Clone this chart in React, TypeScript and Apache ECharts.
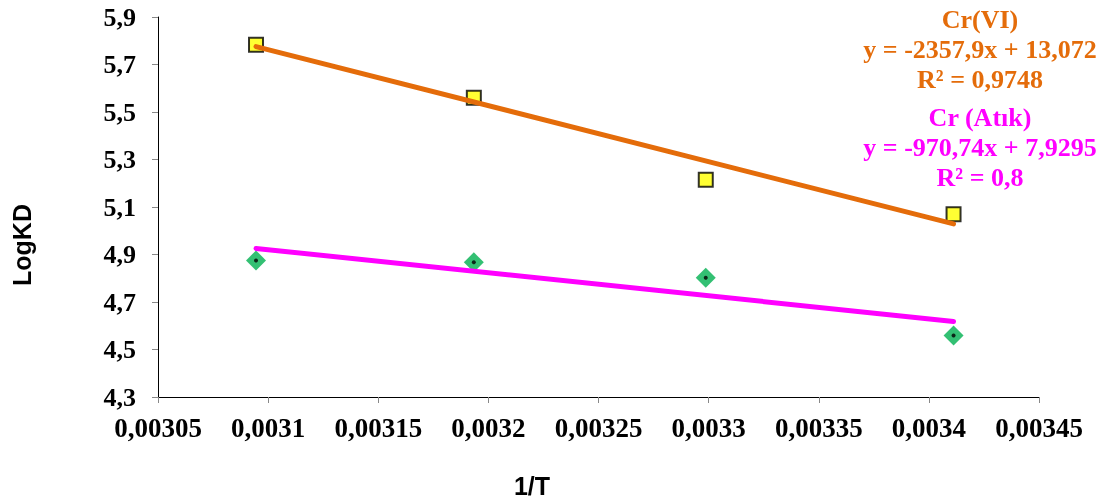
import React, { useEffect, useRef } from "react";
import * as echarts from "echarts";

const invT = [0.0030945, 0.0031934, 0.0032987, 0.0034112];
const crVI = [5.783, 5.56, 5.215, 5.07];
const crAtik = [4.875, 4.867, 4.802, 4.559];
const fitVI = [-2357.9, 13.072];
const fitAtik = [-970.74, 7.9295];
const labelVI = ["Cr(VI)", "y = -2357,9x + 13,072", "R² = 0,9748"];
const labelAtik = ["Cr (Atık)", "y = -970,74x + 7,9295", "R² = 0,8"];
const xTitle = "1/T";
const yTitle = "LogKD";

const fmt = (v: number) => String(+v.toFixed(6)).replace(".", ",");

export default function App() {
  const ref = useRef<HTMLDivElement>(null);
  useEffect(() => {
    const chart = echarts.init(ref.current!, null, { renderer: "svg" });
    const xs = [invT[0], invT[invT.length - 1]];
    const trend = (f: number[]) => xs.map((x) => [x, f[0] * x + f[1]]);
    const serif = '"Liberation Serif", "Times New Roman", serif';
    const sans = '"Liberation Sans", Arial, sans-serif';
    const textLines = (lines: string[], color: string, y0: number) =>
      lines.map((t, i) => ({
        type: "text",
        x: 980,
        y: y0 + i * 30,
        style: {
          text: t,
          fill: color,
          font: `bold 26px ${serif}`,
          textAlign: "center",
          textVerticalAlign: "middle",
        },
      }));
    chart.setOption({
      animation: false,
      grid: { left: 158, right: 71, top: 17, bottom: 107, outerBoundsMode: "none", containLabel: false },
      xAxis: {
        type: "value",
        min: 0.00305,
        max: 0.00345,
        interval: 0.00005,
        axisLine: { lineStyle: { color: "#000", width: 1 } },
        axisTick: { show: true, length: 6, lineStyle: { color: "#888" } },
        axisLabel: { formatter: fmt, fontFamily: serif, fontWeight: "bold", fontSize: 27, color: "#000", margin: 17 },
        splitLine: { show: false },
      },
      yAxis: {
        type: "value",
        min: 4.3,
        max: 5.9,
        interval: 0.2,
        axisLine: { show: true, lineStyle: { color: "#000", width: 1 } },
        axisTick: { show: true, length: 6, lineStyle: { color: "#888" } },
        axisLabel: { formatter: fmt, fontFamily: serif, fontWeight: "bold", fontSize: 26, color: "#000", margin: 22 },
        splitLine: { show: false },
      },
      series: [
        {
          type: "scatter",
          data: invT.map((x, i) => [x, crVI[i]]),
          symbol: "rect",
          symbolSize: 14,
          itemStyle: { color: "#FFFF00", borderColor: "#000", borderWidth: 2 },
          z: 2,
        },
        {
          type: "scatter",
          data: invT.map((x, i) => [x, crAtik[i]]),
          symbol: "diamond",
          symbolSize: 20,
          itemStyle: { color: "#00B050" },
          z: 2,
        },
        {
          type: "scatter",
          data: invT.map((x, i) => [x, crAtik[i]]),
          symbol: "circle",
          symbolSize: 4,
          itemStyle: { color: "#000" },
          z: 3,
        },
        {
          type: "line",
          data: trend(fitVI),
          showSymbol: false,
          symbol: "none",
          lineStyle: { color: "#E46C0A", width: 5, cap: "round" },
          z: 4,
        },
        {
          type: "line",
          data: trend(fitAtik),
          showSymbol: false,
          symbol: "none",
          lineStyle: { color: "#FF00FF", width: 5, cap: "round" },
          z: 4,
        },
      ],
      graphic: [
        ...textLines(labelVI, "#E46C0A", 19),
        ...textLines(labelAtik, "#FF00FF", 117),
        {
          type: "text",
          x: 532,
          y: 486,
          style: { text: xTitle, fill: "#000", font: `bold 25px ${sans}`, textAlign: "center", textVerticalAlign: "middle" },
        },
        {
          type: "text",
          x: 22,
          y: 245,
          rotation: Math.PI / 2,
          style: { text: yTitle, fill: "#000", font: `bold 25px ${sans}`, textAlign: "center", textVerticalAlign: "middle" },
        },
      ],
    });
    return () => chart.dispose();
  }, []);
  return <div ref={ref} style={{ position: "fixed", left: 0, top: 0, width: 1110, height: 504 }} />;
}
